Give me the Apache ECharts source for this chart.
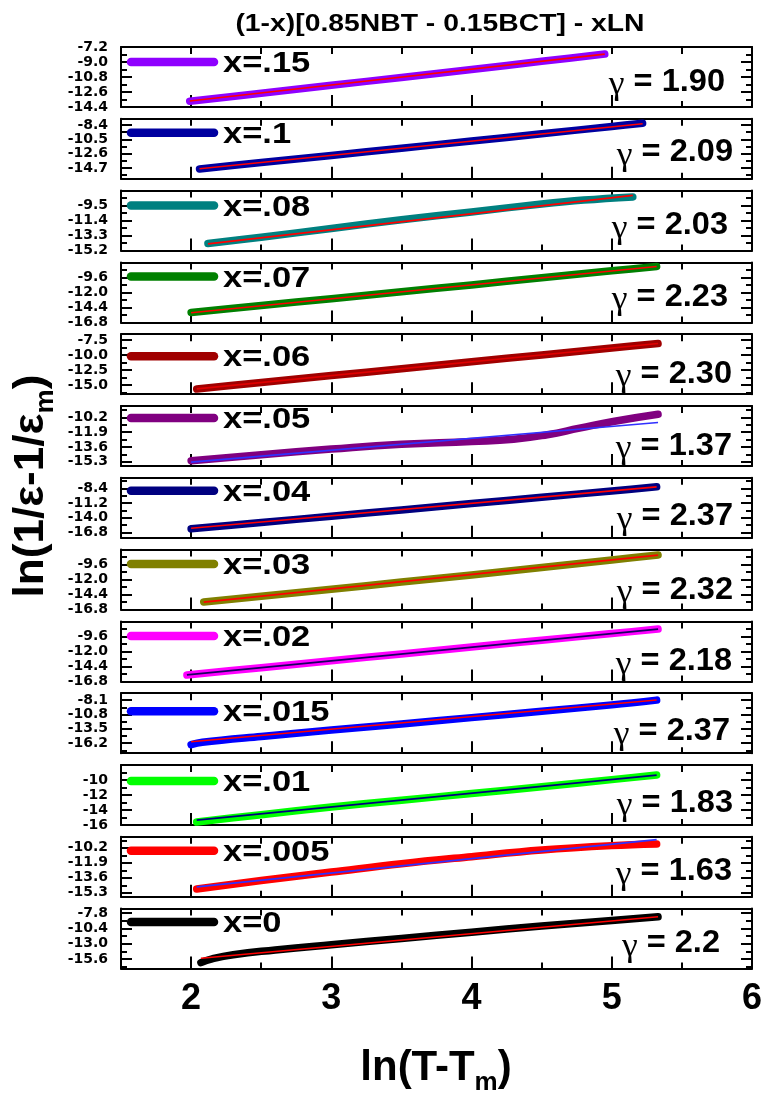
<!DOCTYPE html>
<html>
<head>
<meta charset="utf-8">
<script src="https://cdn.jsdelivr.net/npm/echarts@6/dist/echarts.min.js"></script>
<style>
html, body { margin: 0; padding: 0; background: #fff; }
#chart { width: 765px; height: 1099px; }
</style>
</head>
<body>
<div id="chart"></div>
<script>
// ---- data: one panel per composition, top to bottom ----
const compositions = ['x=.15', 'x=.1', 'x=.08', 'x=.07', 'x=.06', 'x=.05', 'x=.04',
                      'x=.03', 'x=.02', 'x=.015', 'x=.01', 'x=.005', 'x=0'];
const gammaValues = ['1.90', '2.09', '2.03', '2.23', '2.30', '1.37', '2.37',
                     '2.32', '2.18', '2.37', '1.83', '1.63', '2.2'];

// y tick labels of each panel (as printed)
const yTickLabels = [
  ['-7.2', '-9.0', '-10.8', '-12.6', '-14.4'],
  ['-8.4', '-10.5', '-12.6', '-14.7'],
  ['-9.5', '-11.4', '-13.3', '-15.2'],
  ['-9.6', '-12.0', '-14.4', '-16.8'],
  ['-7.5', '-10.0', '-12.5', '-15.0'],
  ['-10.2', '-11.9', '-13.6', '-15.3'],
  ['-8.4', '-11.2', '-14.0', '-16.8'],
  ['-9.6', '-12.0', '-14.4', '-16.8'],
  ['-9.6', '-12.0', '-14.4', '-16.8'],
  ['-8.1', '-10.8', '-13.5', '-16.2'],
  ['-10', '-12', '-14', '-16'],
  ['-10.2', '-11.9', '-13.6', '-15.3'],
  ['-7.8', '-10.4', '-13.0', '-15.6']
];
// y range [min, max] of each panel
const yRanges = [
  [-14.4, -7.2], [-16.3, -7.5], [-15.2, -7.6], [-16.8, -7.2], [-16.5, -6.5],
  [-15.8, -8.9], [-17.8, -6.4], [-16.8, -7.2], [-16.8, -7.2], [-18.1, -6.8],
  [-16, -8], [-15.75, -8.95], [-17.2, -7.05]
];
const xTickLabels = [2, 3, 4, 5, 6];

// measured curves: [ln(T-Tm), ln(1/eps - 1/eps_m)]
const dataX15  = [[1.99,-13.70],[2.5,-12.75],[3.0,-11.80],[3.5,-10.85],[4.0,-9.90],[4.5,-8.92],[4.95,-8.05]];
const dataX10  = [[2.06,-14.85],[2.5,-13.92],[3.0,-12.87],[3.5,-11.82],[4.0,-10.76],[4.5,-9.70],[5.0,-8.62],[5.22,-8.15]];
const dataX08  = [[2.12,-14.30],[2.5,-13.50],[3.0,-12.40],[3.5,-11.30],[4.0,-10.30],[4.5,-9.30],[4.8,-8.80],[5.15,-8.40]];
const dataX07  = [[2.0,-15.20],[2.5,-14.10],[3.0,-13.00],[3.5,-11.90],[4.0,-10.80],[4.5,-9.65],[5.0,-8.55],[5.32,-7.85]];
const dataX06  = [[2.04,-15.65],[2.5,-14.55],[3.0,-13.40],[3.5,-12.25],[4.0,-11.10],[4.5,-9.95],[5.0,-8.80],[5.33,-8.05]];
const dataX05  = [[2.0,-15.20],[2.5,-14.50],[3.0,-13.85],[3.5,-13.30],[4.0,-12.98],[4.3,-12.72],[4.54,-12.20],[4.77,-11.45],[5.01,-10.68],[5.33,-9.85]];
const dataX04  = [[2.0,-16.10],[2.5,-14.90],[3.0,-13.70],[3.5,-12.50],[4.0,-11.30],[4.5,-10.10],[5.0,-8.90],[5.32,-8.10]];
const dataX03  = [[2.09,-15.58],[2.5,-14.65],[3.0,-13.55],[3.5,-12.40],[4.0,-11.25],[4.5,-10.05],[5.0,-8.85],[5.33,-8.06]];
const dataX02  = [[1.97,-15.78],[2.5,-14.60],[3.0,-13.50],[3.5,-12.40],[4.0,-11.30],[4.5,-10.20],[5.0,-9.15],[5.33,-8.42]];
const dataX015 = [[2.0,-16.50],[2.08,-16.05],[2.5,-14.95],[3.0,-13.75],[3.5,-12.60],[4.0,-11.40],[4.5,-10.20],[5.0,-9.00],[5.32,-8.10]];
const dataX01  = [[2.04,-15.60],[2.5,-14.62],[3.0,-13.60],[3.5,-12.70],[4.0,-11.80],[4.5,-10.90],[5.0,-9.95],[5.32,-9.33]];
const dataX005 = [[2.04,-14.86],[2.5,-13.90],[3.0,-12.95],[3.5,-12.00],[4.0,-11.20],[4.5,-10.45],[5.0,-9.95],[5.32,-9.77]];
const dataX0   = [[2.07,-16.20],[2.15,-15.55],[2.3,-14.85],[2.6,-14.05],[3.0,-13.15],[3.5,-12.10],[4.0,-11.05],[4.5,-10.00],[5.0,-9.05],[5.33,-8.42]];

// linear fits (slope = gamma)
const fitX15  = [[1.99,-13.68],[4.95,-8.06]];
const fitX10  = [[2.06,-14.82],[5.22,-8.22]];
const fitX08  = [[2.12,-14.35],[5.15,-8.20]];
const fitX07  = [[2.0,-15.25],[5.32,-7.85]];
const fitX06  = [[2.04,-15.62],[5.33,-8.05]];
const fitX05  = [[2.0,-15.35],[5.33,-10.79]];
const fitX04  = [[2.0,-16.00],[5.32,-8.13]];
const fitX03  = [[2.09,-15.60],[5.33,-8.08]];
const fitX02  = [[1.97,-15.75],[5.33,-8.43]];
const fitX015 = [[2.0,-15.95],[5.32,-8.08]];
const fitX01  = [[2.04,-15.35],[5.32,-9.35]];
const fitX005 = [[2.04,-14.62],[5.32,-9.27]];
const fitX0   = [[2.07,-15.45],[5.33,-8.42]];

const curves = [dataX15, dataX10, dataX08, dataX07, dataX06, dataX05, dataX04,
                dataX03, dataX02, dataX015, dataX01, dataX005, dataX0];
const fits = [fitX15, fitX10, fitX08, fitX07, fitX06, fitX05, fitX04,
              fitX03, fitX02, fitX015, fitX01, fitX005, fitX0];

// ---- styling ----
const lineColors = ['#8F00FF', '#0000A0', '#008080', '#008000', '#A00000', '#800080', '#000080',
                    '#808000', '#FF00FF', '#0000FF', '#00FF00', '#FF0000', '#000000'];
const fitColors = ['#FF0000', '#FF0000', '#FF0000', '#FF0000', '#E00000', '#3030FF', '#FF0000',
                   '#FF0000', '#1A0060', '#FF0000', '#000080', '#3030FF', '#FF0000'];
const curveSmooth = [0.3, 0.3, 0.4, 0.3, 0.3, 0.5, 0.3, 0.3, 0.3, 0.4, 0.3, 0.4, 0.5];

// ---- layout ----
const PLOT_LEFT = 121, PLOT_RIGHT = 752;
const TOP0 = 47, PITCH = 71.8, PANEL_H = 60;
const legendDy = [15, 14, 15, 14, 22, 12, 13, 14.5, 14.6, 18, 16, 14, 13.4];
const gammaRight = [725, 733, 728, 728, 732, 732, 733, 733, 732, 730, 733, 732, 720];
const gammaDy = [35, 34, 35, 35, 40, 40, 39, 40.4, 40.3, 38.5, 38.3, 35, 35];

const SANS = '"Liberation Sans", Arial, sans-serif';
const AXIS_COLOR = '#000';

function tickSets(labels, range) {
  const vals = labels.map(Number);
  const step = Math.abs(vals[0] - vals[1]);
  const [lo, hi] = range;
  const major = [], minor = [];
  const eps = 1e-6;
  // walk in half steps from the first label across the whole range
  const start = vals[0];
  for (let k = -20; k <= 20; k++) {
    const v = +(start - k * step / 2).toFixed(4);
    if (v < lo - eps || v > hi + eps) continue;
    if (k % 2 === 0) major.push(v); else minor.push(v);
  }
  return { major, minor, values: vals };
}

const grid = [], xAxis = [], yAxis = [], series = [], graphic = [];
const N = compositions.length;

for (let i = 0; i < N; i++) {
  const top = TOP0 + i * PITCH;
  grid.push({ left: PLOT_LEFT, top: top, width: PLOT_RIGHT - PLOT_LEFT, height: PANEL_H, containLabel: false });

  const lineStyle = { color: AXIS_COLOR, width: 2 };
  const baseX = { gridIndex: i, type: 'value', min: 1.5, max: 6, splitLine: { show: false } };
  // bottom axis: frame line, major ticks, labels on the last panel
  xAxis.push(Object.assign({}, baseX, {
    position: 'bottom',
    axisLine: { show: true, onZero: false, lineStyle },
    axisTick: { show: true, inside: true, length: 12, lineStyle, customValues: [2, 3, 4, 5] },
    axisLabel: {
      show: i === N - 1, customValues: xTickLabels, color: '#000', fontFamily: SANS,
      fontWeight: 'bold', fontSize: 36, margin: 12, hideOverlap: false
    }
  }));
  // bottom minor ticks
  xAxis.push(Object.assign({}, baseX, {
    position: 'bottom',
    axisLine: { show: false, onZero: false },
    axisTick: { show: true, inside: true, length: 6, lineStyle, customValues: [2.5, 3.5, 4.5, 5.5] },
    axisLabel: { show: false }
  }));
  // top frame
  xAxis.push(Object.assign({}, baseX, {
    position: 'top',
    axisLine: { show: true, onZero: false, lineStyle },
    axisTick: { show: true, inside: true, length: 7, lineStyle, customValues: [2, 2.5, 3, 3.5, 4, 4.5, 5, 5.5] },
    axisLabel: { show: false }
  }));

  const ts = tickSets(yTickLabels[i], yRanges[i]);
  const labelsFor = yTickLabels[i];
  const baseY = { gridIndex: i, type: 'value', min: yRanges[i][0], max: yRanges[i][1], splitLine: { show: false } };
  yAxis.push(Object.assign({}, baseY, {
    position: 'left',
    axisLine: { show: true, onZero: false, lineStyle },
    axisTick: { show: true, inside: true, length: 11, lineStyle, customValues: ts.major },
    axisLabel: {
      show: true, customValues: ts.values, color: '#000', fontFamily: '"DejaVu Sans", sans-serif',
      fontWeight: 'bold', fontSize: 14, margin: 13, hideOverlap: false,
      showMinLabel: true, showMaxLabel: true,
      formatter: (v) => {
        const hit = labelsFor.find(s => Math.abs(Number(s) - v) < 1e-6);
        return hit !== undefined ? hit : '';
      }
    }
  }));
  yAxis.push(Object.assign({}, baseY, {
    position: 'left',
    axisLine: { show: false, onZero: false },
    axisTick: { show: true, inside: true, length: 6, lineStyle, customValues: ts.minor },
    axisLabel: { show: false }
  }));
  yAxis.push(Object.assign({}, baseY, {
    position: 'right',
    axisLine: { show: true, onZero: false, lineStyle },
    axisTick: { show: true, inside: true, length: 11, lineStyle, customValues: ts.major },
    axisLabel: { show: false }
  }));
  yAxis.push(Object.assign({}, baseY, {
    position: 'right',
    axisLine: { show: false, onZero: false },
    axisTick: { show: true, inside: true, length: 6, lineStyle, customValues: ts.minor },
    axisLabel: { show: false }
  }));

  series.push({
    name: compositions[i],
    type: 'line',
    xAxisIndex: 3 * i,
    yAxisIndex: 4 * i,
    data: curves[i],
    showSymbol: false,
    smooth: curveSmooth[i],
    silent: true,
    lineStyle: { color: lineColors[i], width: 7.5, cap: 'round', join: 'round' },
    z: 2
  });
  series.push({
    name: compositions[i] + ' fit',
    type: 'line',
    xAxisIndex: 3 * i,
    yAxisIndex: 4 * i,
    data: fits[i],
    showSymbol: false,
    silent: true,
    lineStyle: { color: fitColors[i], width: 1.6 },
    z: 3
  });

  // legend swatch and composition label
  const ly = top + legendDy[i];
  graphic.push({
    type: 'line', silent: true, z: 10,
    shape: { x1: 131, y1: ly, x2: 214, y2: ly },
    style: { stroke: lineColors[i], lineWidth: 8.5, lineCap: 'round' }
  });
  graphic.push({
    type: 'text', silent: true, z: 10, x: 223, y: ly + 2, scaleX: 1.15,
    style: {
      text: compositions[i], fill: '#000', font: 'bold 30px ' + SANS,
      align: 'left', verticalAlign: 'middle'
    }
  });
  // exponent annotation
  graphic.push({
    type: 'text', silent: true, z: 10, x: gammaRight[i], y: top + gammaDy[i], scaleX: 1.05,
    style: {
      text: '{g|γ}{v| = ' + gammaValues[i] + '}',
      align: 'right', verticalAlign: 'middle',
      rich: {
        g: { fontFamily: '"Liberation Serif", serif', fontSize: 34, fill: '#000', padding: [6, 0, 0, 0] },
        v: { fontFamily: SANS, fontWeight: 'bold', fontSize: 31, fill: '#000' }
      }
    }
  });
}

// title
graphic.push({
  type: 'text', silent: true, x: 440, y: 24, scaleX: 1.18,
  style: {
    text: '(1-x)[0.85NBT - 0.15BCT] - xLN', fill: '#000', font: 'bold 24px ' + SANS,
    align: 'center', verticalAlign: 'middle'
  }
});
// x axis title
graphic.push({
  type: 'text', silent: true, x: 436, y: 1068,
  style: {
    text: '{a|ln(T-T}{s|m}{a|)}', align: 'center', verticalAlign: 'middle',
    rich: {
      a: { fontFamily: SANS, fontWeight: 'bold', fontSize: 42, fill: '#000' },
      s: { fontFamily: SANS, fontWeight: 'bold', fontSize: 26, fill: '#000', padding: [30, 0, 0, 0] }
    }
  }
});
// y axis title
graphic.push({
  type: 'text', silent: true, x: 31, y: 486, rotation: Math.PI / 2, scaleX: 1.05,
  style: {
    text: '{a|ln(1/ε-1/ε}{s|m}{a|)}', align: 'center', verticalAlign: 'middle',
    rich: {
      a: { fontFamily: SANS, fontWeight: 'bold', fontSize: 42, fill: '#000' },
      s: { fontFamily: SANS, fontWeight: 'bold', fontSize: 26, fill: '#000', padding: [30, 0, 0, 0] }
    }
  }
});

const chart = echarts.init(document.getElementById('chart'), null, { renderer: 'canvas' });
chart.setOption({
  backgroundColor: '#fff',
  animation: false,
  grid, xAxis, yAxis, series, graphic
});
</script>
</body>
</html>
